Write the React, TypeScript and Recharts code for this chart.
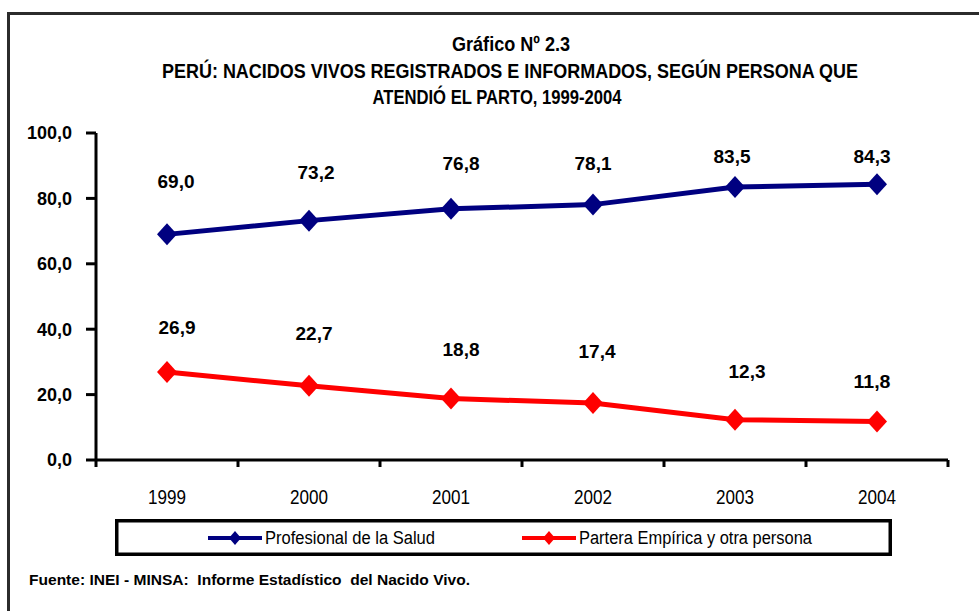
import React from 'react';
import { LineChart, Line, XAxis, YAxis, LabelList } from 'recharts';

// ---------- data ----------
const years = ['1999', '2000', '2001', '2002', '2003', '2004'];
const profesional = [69.0, 73.2, 76.8, 78.1, 83.5, 84.3];
const partera = [26.9, 22.7, 18.8, 17.4, 12.3, 11.8];
const yTicks = [0, 20, 40, 60, 80, 100];
const seriesNames = ['Profesional de la Salud', 'Partera Empírica y otra persona'];
const titleLines = [
  'Gráfico Nº 2.3',
  'PERÚ: NACIDOS VIVOS REGISTRADOS E INFORMADOS, SEGÚN PERSONA QUE',
  'ATENDIÓ EL PARTO, 1999-2004',
];
const sourceText = 'Fuente: INEI - MINSA:  Informe Estadístico  del Nacido Vivo.';

// ---------- label placement (style only) ----------
const profLabelDx = [9, 7, 10, 0, -3, -5];
const profLabelDy = [-53, -48, -45, -41, -30, -28];
const partLabelDx = [10, 5, 10, 4, 12, -5];
const partLabelDy = [-45, -52, -49, -52, -48, -40];

const BLUE = '#000080';
const RED = '#FF0000';
const NARROW = '"Liberation Sans Narrow", "Arial Narrow", "Liberation Sans", Arial, sans-serif';

const data = years.map((y, i) => ({ year: y, prof: profesional[i], part: partera[i] }));

const fmt = (v: number) => v.toFixed(1).replace('.', ',');

const makeDiamond = (color: string) => (props: any) => {
  const { cx, cy, index } = props;
  if (cx == null || cy == null) return <g key={`d-${index}`} />;
  return (
    <path
      key={`d-${color}-${index}`}
      d={`M${cx} ${cy - 11} L${cx + 10} ${cy} L${cx} ${cy + 11} L${cx - 10} ${cy} Z`}
      fill={color}
    />
  );
};

const makeLabel = (dxs: number[], dys: number[]) => (props: any) => {
  const { x, y, value, index } = props;
  return (
    <text
      key={`l-${index}`}
      x={x + dxs[index]}
      y={y + dys[index]}
      textAnchor="middle"
      dominantBaseline="central"
      fontFamily={NARROW}
      fontWeight="bold"
      fontSize={19}
      textLength={37}
      lengthAdjust="spacingAndGlyphs"
      fill="#000"
    >
      {fmt(value)}
    </text>
  );
};

const HALF_BAND = 71;

const XTick = (props: any) => {
  const { x, y, payload, index } = props;
  const last = index === years.length - 1;
  return (
    <g>
      <line x1={x - HALF_BAND} y1={y} x2={x - HALF_BAND} y2={y + 7} stroke="#000" strokeWidth={3} />
      {last && <line x1={x + HALF_BAND} y1={y} x2={x + HALF_BAND} y2={y + 7} stroke="#000" strokeWidth={3} />}
      <text x={x} y={y + 37} textAnchor="middle" dominantBaseline="central" fontFamily={NARROW} fontSize={20}
        textLength={38} lengthAdjust="spacingAndGlyphs" fill="#000">
        {payload.value}
      </text>
    </g>
  );
};

export default function App() {
  return (
    <div style={{ position: 'fixed', left: 0, top: 0, width: 979, height: 611, overflow: 'hidden', background: '#fff' }}>
      {/* outer frame */}
      <div
        style={{
          position: 'absolute',
          left: 7,
          top: 12,
          width: 1100,
          height: 800,
          borderLeft: '3px solid #2b2b2b',
          borderTop: '3px solid #2b2b2b',
        }}
      />
      <div style={{ position: 'absolute', left: 0, top: 0 }}>
        <LineChart width={979} height={611} data={data} margin={{ top: 133, right: 31, bottom: 121, left: 36 }}>
          <XAxis
            dataKey="year"
            padding={{ left: HALF_BAND, right: HALF_BAND }}
            axisLine={{ stroke: '#000', strokeWidth: 3 }}
            tickLine={false}
            tickSize={0}
            tickMargin={0}
            height={30}
            tick={<XTick />}
            interval={0}
          />
          <XAxis xAxisId="top" dataKey="year" orientation="top" height={0} tick={false} tickLine={false}
            axisLine={{ stroke: '#000', strokeWidth: 3 }} />
          <YAxis
            domain={[0, 100]}
            ticks={yTicks}
            width={60}
            axisLine={{ stroke: '#000', strokeWidth: 3 }}
            tickLine={{ stroke: '#000', strokeWidth: 3 }}
            tickSize={10}
            tickMargin={14}
            tickFormatter={fmt}
            tick={{ fill: '#000', fontFamily: NARROW, fontWeight: 'bold', fontSize: 18 }}
            interval={0}
          />
          <YAxis yAxisId="right" orientation="right" width={0} tick={false} tickLine={false}
            axisLine={{ stroke: '#000', strokeWidth: 3 }} />
          <Line
            dataKey="prof"
            stroke={BLUE}
            strokeWidth={5}
            dot={makeDiamond(BLUE)}
            activeDot={false}
            isAnimationActive={false}
          >
            <LabelList dataKey="prof" content={makeLabel(profLabelDx, profLabelDy)} />
          </Line>
          <Line
            dataKey="part"
            stroke={RED}
            strokeWidth={5}
            dot={makeDiamond(RED)}
            activeDot={false}
            isAnimationActive={false}
          >
            <LabelList dataKey="part" content={makeLabel(partLabelDx, partLabelDy)} />
          </Line>
        </LineChart>
      </div>
      {/* title, legend, source */}
      <svg width={979} height={611} style={{ position: 'absolute', left: 0, top: 0, pointerEvents: 'none' }}>
        <g fontFamily={NARROW} fontWeight="bold" fill="#000" fontSize={20}>
          <text x={511} y={44} dominantBaseline="central" textAnchor="middle" textLength={118} lengthAdjust="spacingAndGlyphs">{titleLines[0]}</text>
          <text x={510} y={71} dominantBaseline="central" textAnchor="middle" textLength={696} lengthAdjust="spacingAndGlyphs">{titleLines[1]}</text>
          <text x={497} y={97} dominantBaseline="central" textAnchor="middle" textLength={249} lengthAdjust="spacingAndGlyphs">{titleLines[2]}</text>
        </g>
        <rect x={116.75} y={520.75} width={773.5} height={33.5} fill="#fff" stroke="#000" strokeWidth={3.5} />
        <line x1={208} y1={538} x2={262} y2={538} stroke={BLUE} strokeWidth={4} />
        <path d="M235 531 L241 538 L235 545 L229 538 Z" fill={BLUE} />
        <text x={265} y={538} dominantBaseline="central" fontFamily={NARROW} fontSize={18} fill="#000"
          textLength={170} lengthAdjust="spacingAndGlyphs">{seriesNames[0]}</text>
        <line x1={522} y1={538} x2={576} y2={538} stroke={RED} strokeWidth={4} />
        <path d="M549 531 L555 538 L549 545 L543 538 Z" fill={RED} />
        <text x={579} y={538} dominantBaseline="central" fontFamily={NARROW} fontSize={18} fill="#000"
          textLength={233} lengthAdjust="spacingAndGlyphs">{seriesNames[1]}</text>
        <text x={29} y={580} dominantBaseline="central" fontFamily={NARROW} fontWeight="bold" fontSize={14} fill="#000"
          textLength={441} lengthAdjust="spacingAndGlyphs" xmlSpace="preserve">{sourceText}</text>
      </svg>
    </div>
  );
}
